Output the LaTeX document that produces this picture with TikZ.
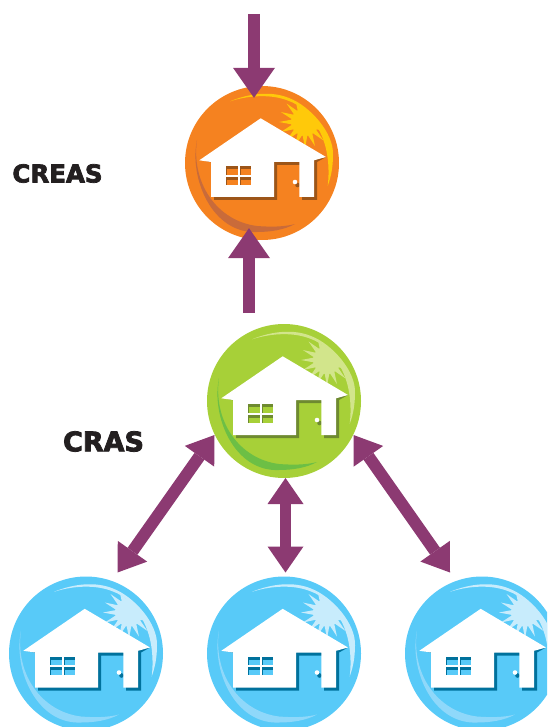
\documentclass[tikz,border=0pt]{standalone}
\usepackage{fontspec}
\usetikzlibrary{arrows.meta, positioning, calc}
\newfontfamily\labelfont[BoldFeatures={FakeBold=3}]{DejaVu Sans}
\definecolor{flowcol}{HTML}{8C3A72}
\definecolor{inkcol}{HTML}{231F20}
\definecolor{orangebase}{HTML}{F58220}
\definecolor{orangesun}{HTML}{FFC90A}
\definecolor{orangerim}{HTML}{C96B3A}
\definecolor{orangedark}{HTML}{9C5518}
\definecolor{greenbase}{HTML}{A7D038}
\definecolor{greensun}{HTML}{D2E58B}
\definecolor{greenrim}{HTML}{6CBF45}
\definecolor{greendark}{HTML}{6E8A30}
\definecolor{bluebase}{HTML}{58CAF8}
\definecolor{bluesun}{HTML}{C8ECFC}
\definecolor{bluerim}{HTML}{8FD8FA}
\definecolor{bluedark}{HTML}{00719C}
\tikzset{
  bubble/.style={circle,inner sep=0pt,minimum size=154pt},
  tag/.style={inner sep=0pt,text=inkcol},
  flow/.style={draw=flowcol,line width=12pt},
  tipin/.style={-{Triangle[length=30pt,width=42pt,line width=0pt]}},
  tipboth/.style={{Triangle[length=26pt,width=36pt,line width=0pt]}-{Triangle[length=26pt,width=36pt,line width=0pt]}},
  pics/shelter/.style n args={4}{code={
    % sun
    \begin{scope}
      \clip (0,0) circle (68);
      \foreach \ang in {0,22.5,...,337.5}
        \fill[#2] ($(43,-41)+(\ang-11:13)$) -- ($(43,-41)+(\ang:26)$) -- ($(43,-41)+(\ang+11:13)$) -- cycle;
      \fill[#2] (43,-41) circle (14);
    \end{scope}
    % highlight and rim
    \fill[#2] (-32,-61.7) .. controls (-12,-70) and (10,-72) .. (27,-65)
      .. controls (48,-57) and (72,-30) .. (71,-8)
      .. controls (71,4) and (69,14) .. (65.7,23)
      .. controls (68,4) and (66,-20) .. (54,-38)
      .. controls (46,-50) and (38,-58) .. (27,-62)
      .. controls (10,-69) and (-12,-68) .. cycle;
    \fill[#3] (-65,-23) .. controls (-73,15) and (-50,71) .. (-5,69)
      .. controls (8,69) and (22,67) .. (33,61)
      .. controls (22,64) and (8,64) .. (-5,63)
      .. controls (-45,58) and (-71,20) .. cycle;
    % shadow
    \fill[#4] (-60,-3) -- (-48,0) -- (-48,37) -- (15,37) -- (15,2) -- (40,2)
      -- (40,37) -- (55,37) -- (55,-1) -- (64,-6) -- cycle;
    \fill[#4] (35.5,22) circle (2.3);
    % house
    \fill[white] (-1.3,-44.7) -- (64,-6) -- (52,-2.7) -- (52,34) -- (37.3,34)
      -- (37.3,-1) -- (12,-1) -- (12,34) -- (-51,34) -- (-51,-1)
      -- (-62.7,-2.7) -- cycle;
    \fill[white] (33,19) circle (2.3);
    % window
    \foreach \px/\py/\qx/\qy in {-36/3.3/-24/11.7,-22/3.3/-11/11.7,-36/13.7/-24/21.7,-22/13.7/-11/21.7} {
      \fill[#4] (\px,\py) rectangle (\qx,\qy);
      \fill[#1] (\px+1,\py+3) rectangle (\qx,\qy);
    }
  }},
}
\begin{document}
\begin{tikzpicture}[x=1pt,y=-1pt]
\clip (0,0) rectangle (547,727);
%% houses
% nodes
\node[bubble,fill=orangebase] (creas) at (262,163) {};
\node[bubble,fill=greenbase] (cras) at (284,401) {};
\node[bubble,fill=bluebase] (homea) at (86,653.5) {};
\node[bubble,fill=bluebase] (homeb) at (284,653.5) {};
\node[bubble,fill=bluebase] (homec) at (482,653.5) {};
\pic at (creas) {shelter={orangebase}{orangesun}{orangerim}{orangedark}};
\pic at (cras) {shelter={greenbase}{greensun}{greenrim}{greendark}};
\pic at (homea) {shelter={bluebase}{bluesun}{bluerim}{bluedark}};
\pic at (homeb) {shelter={bluebase}{bluesun}{bluerim}{bluedark}};
\pic at (homec) {shelter={bluebase}{bluesun}{bluerim}{bluedark}};
% labels
\node[tag,font=\labelfont\bfseries\fontsize{24.5}{24.5}\selectfont] (creaslabel) at (57.5,173.5) {CREAS};
\node[tag,font=\labelfont\bfseries\fontsize{27}{27}\selectfont] (craslabel) at (103.5,441.5) {CRAS};

%% connectors
% free ends
\coordinate (intop) at (254,14);
\coordinate (inbottom) at (249,313);
\coordinate (tipleft) at (214.5,435);
\coordinate (tipright) at (353.5,435);
\coordinate (tipmid) at (285.5,478);
\coordinate (enda) at (117.5,572.5);
\coordinate (endb) at (285.5,572.5);
\coordinate (endc) at (450,572.5);
% arrows
\draw[flow,tipin,shorten >=-12pt] (intop) -- (intop |- creas.north);
\draw[flow,tipin,shorten >=-12pt] (inbottom) -- (inbottom |- creas.south);
\draw[flow,tipboth] (tipleft) -- (enda);
\draw[flow,tipboth,line width=11pt] (tipmid) -- (endb);
\draw[flow,tipboth] (tipright) -- (endc);
\end{tikzpicture}
\end{document}
